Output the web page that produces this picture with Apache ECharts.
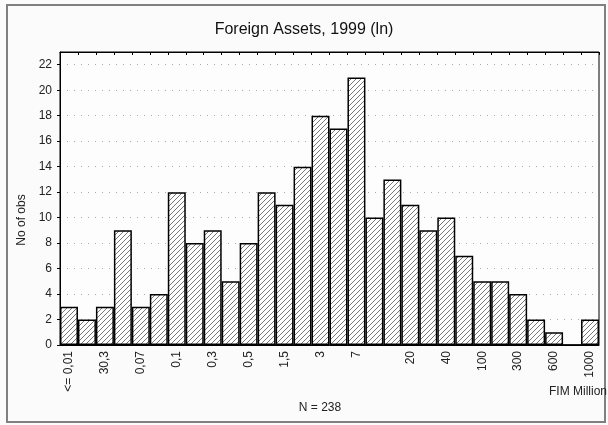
<!DOCTYPE html>
<html>
<head>
<meta charset="utf-8">
<script src="https://cdn.jsdelivr.net/npm/echarts@6/dist/echarts.min.js"></script>
<style>
  html, body { margin: 0; padding: 0; background: #fbfbfb; }
  #chart { width: 608px; height: 425px; }
</style>
</head>
<body>
<div id="chart"></div>
<script>
  // bin labels, only every other one is printed
  var binLabels = ['<= 0,01', '', '30,3', '', '0,07', '', '0,1', '', '0,3', '', '0,5', '', '1,5', '', '3', '',
    '7', '', '', '20', '', '40', '', '100', '', '300', '', '600', '', '1000']
  var counts = [3, 2, 3, 9, 3, 4, 12, 8, 9, 5, 8, 12, 11, 14, 18, 17, 21, 10, 13, 11, 9, 10, 7, 5, 5, 4, 2, 1, 0, 2]
  var yTicks = { min: 0, max: 23, interval: 2 }

  // diagonal hatch fill
  function hatch() {
    var c = document.createElement('canvas')
    c.width = 5
    c.height = 5
    var g = c.getContext('2d')
    g.fillStyle = '#fff'
    g.fillRect(0, 0, 5, 5)
    g.strokeStyle = '#555'
    g.lineWidth = 0.8
    g.beginPath()
    g.moveTo(-1, 6); g.lineTo(6, -1)
    g.moveTo(-1, 1); g.lineTo(1, -1)
    g.moveTo(4, 6); g.lineTo(6, 4)
    g.stroke()
    return c
  }

  var txt = { fontFamily: 'Liberation Sans', fontSize: 12, fill: '#222' }

  var chart = echarts.init(document.getElementById('chart'))
  chart.setOption({
    backgroundColor: '#fbfbfb',
    animation: false,
    title: {
      text: 'Foreign Assets, 1999 (ln)',
      left: 'center',
      top: 17,
      textStyle: { fontFamily: 'Liberation Sans', fontSize: 16, fontWeight: 'normal', color: '#111' }
    },
    grid: {
      left: 60, right: 9, top: 52, bottom: 80,
      show: true, backgroundColor: '#fdfdfd', borderColor: '#000', borderWidth: 1
    },
    xAxis: [{
      type: 'category',
      data: binLabels,
      axisLine: { lineStyle: { color: '#000', width: 1 } },
      axisTick: { show: false },
      axisLabel: {
        interval: 0, rotate: 90, margin: 6,
        fontFamily: 'Liberation Sans', fontSize: 12, color: '#222'
      }
    }, {
      type: 'category',
      position: 'top',
      data: binLabels,
      axisLine: { lineStyle: { color: '#000', width: 1 } },
      axisTick: { show: true, inside: true, length: 3, interval: 0, lineStyle: { color: '#000' } },
      axisLabel: { show: false }
    }],
    yAxis: {
      type: 'value',
      min: yTicks.min, max: yTicks.max, interval: yTicks.interval,
      axisLine: { show: true, lineStyle: { color: '#000', width: 1 } },
      axisTick: { show: true, length: 3, lineStyle: { color: '#000' } },
      axisLabel: {
        margin: 8, fontFamily: 'Liberation Sans', fontSize: 12, color: '#222',
        showMaxLabel: false
      },
      splitLine: { show: true, lineStyle: { color: '#aaa', width: 1, type: [1, 6] } }
    },
    graphic: [
      { type: 'rect', shape: { x: 7, y: 5, width: 598, height: 417 }, style: { fill: 'none', stroke: '#808080', lineWidth: 2 }, silent: true },
      { type: 'text', x: 22, y: 220, rotation: Math.PI / 2, style: Object.assign({ text: 'No of obs', align: 'center', verticalAlign: 'middle' }, txt) },
      { type: 'text', x: 320, y: 408, style: Object.assign({ text: 'N = 238', align: 'center', verticalAlign: 'middle' }, txt) },
      { type: 'text', x: 607, y: 392, style: Object.assign({ text: 'FIM Million', align: 'right', verticalAlign: 'middle' }, txt) }
    ],
    series: [{
      type: 'bar',
      data: counts,
      barCategoryGap: 0,
      itemStyle: {
        color: { image: hatch(), repeat: 'repeat' },
        borderColor: '#000',
        borderWidth: 1.5
      }
    }]
  })
</script>
</body>
</html>
